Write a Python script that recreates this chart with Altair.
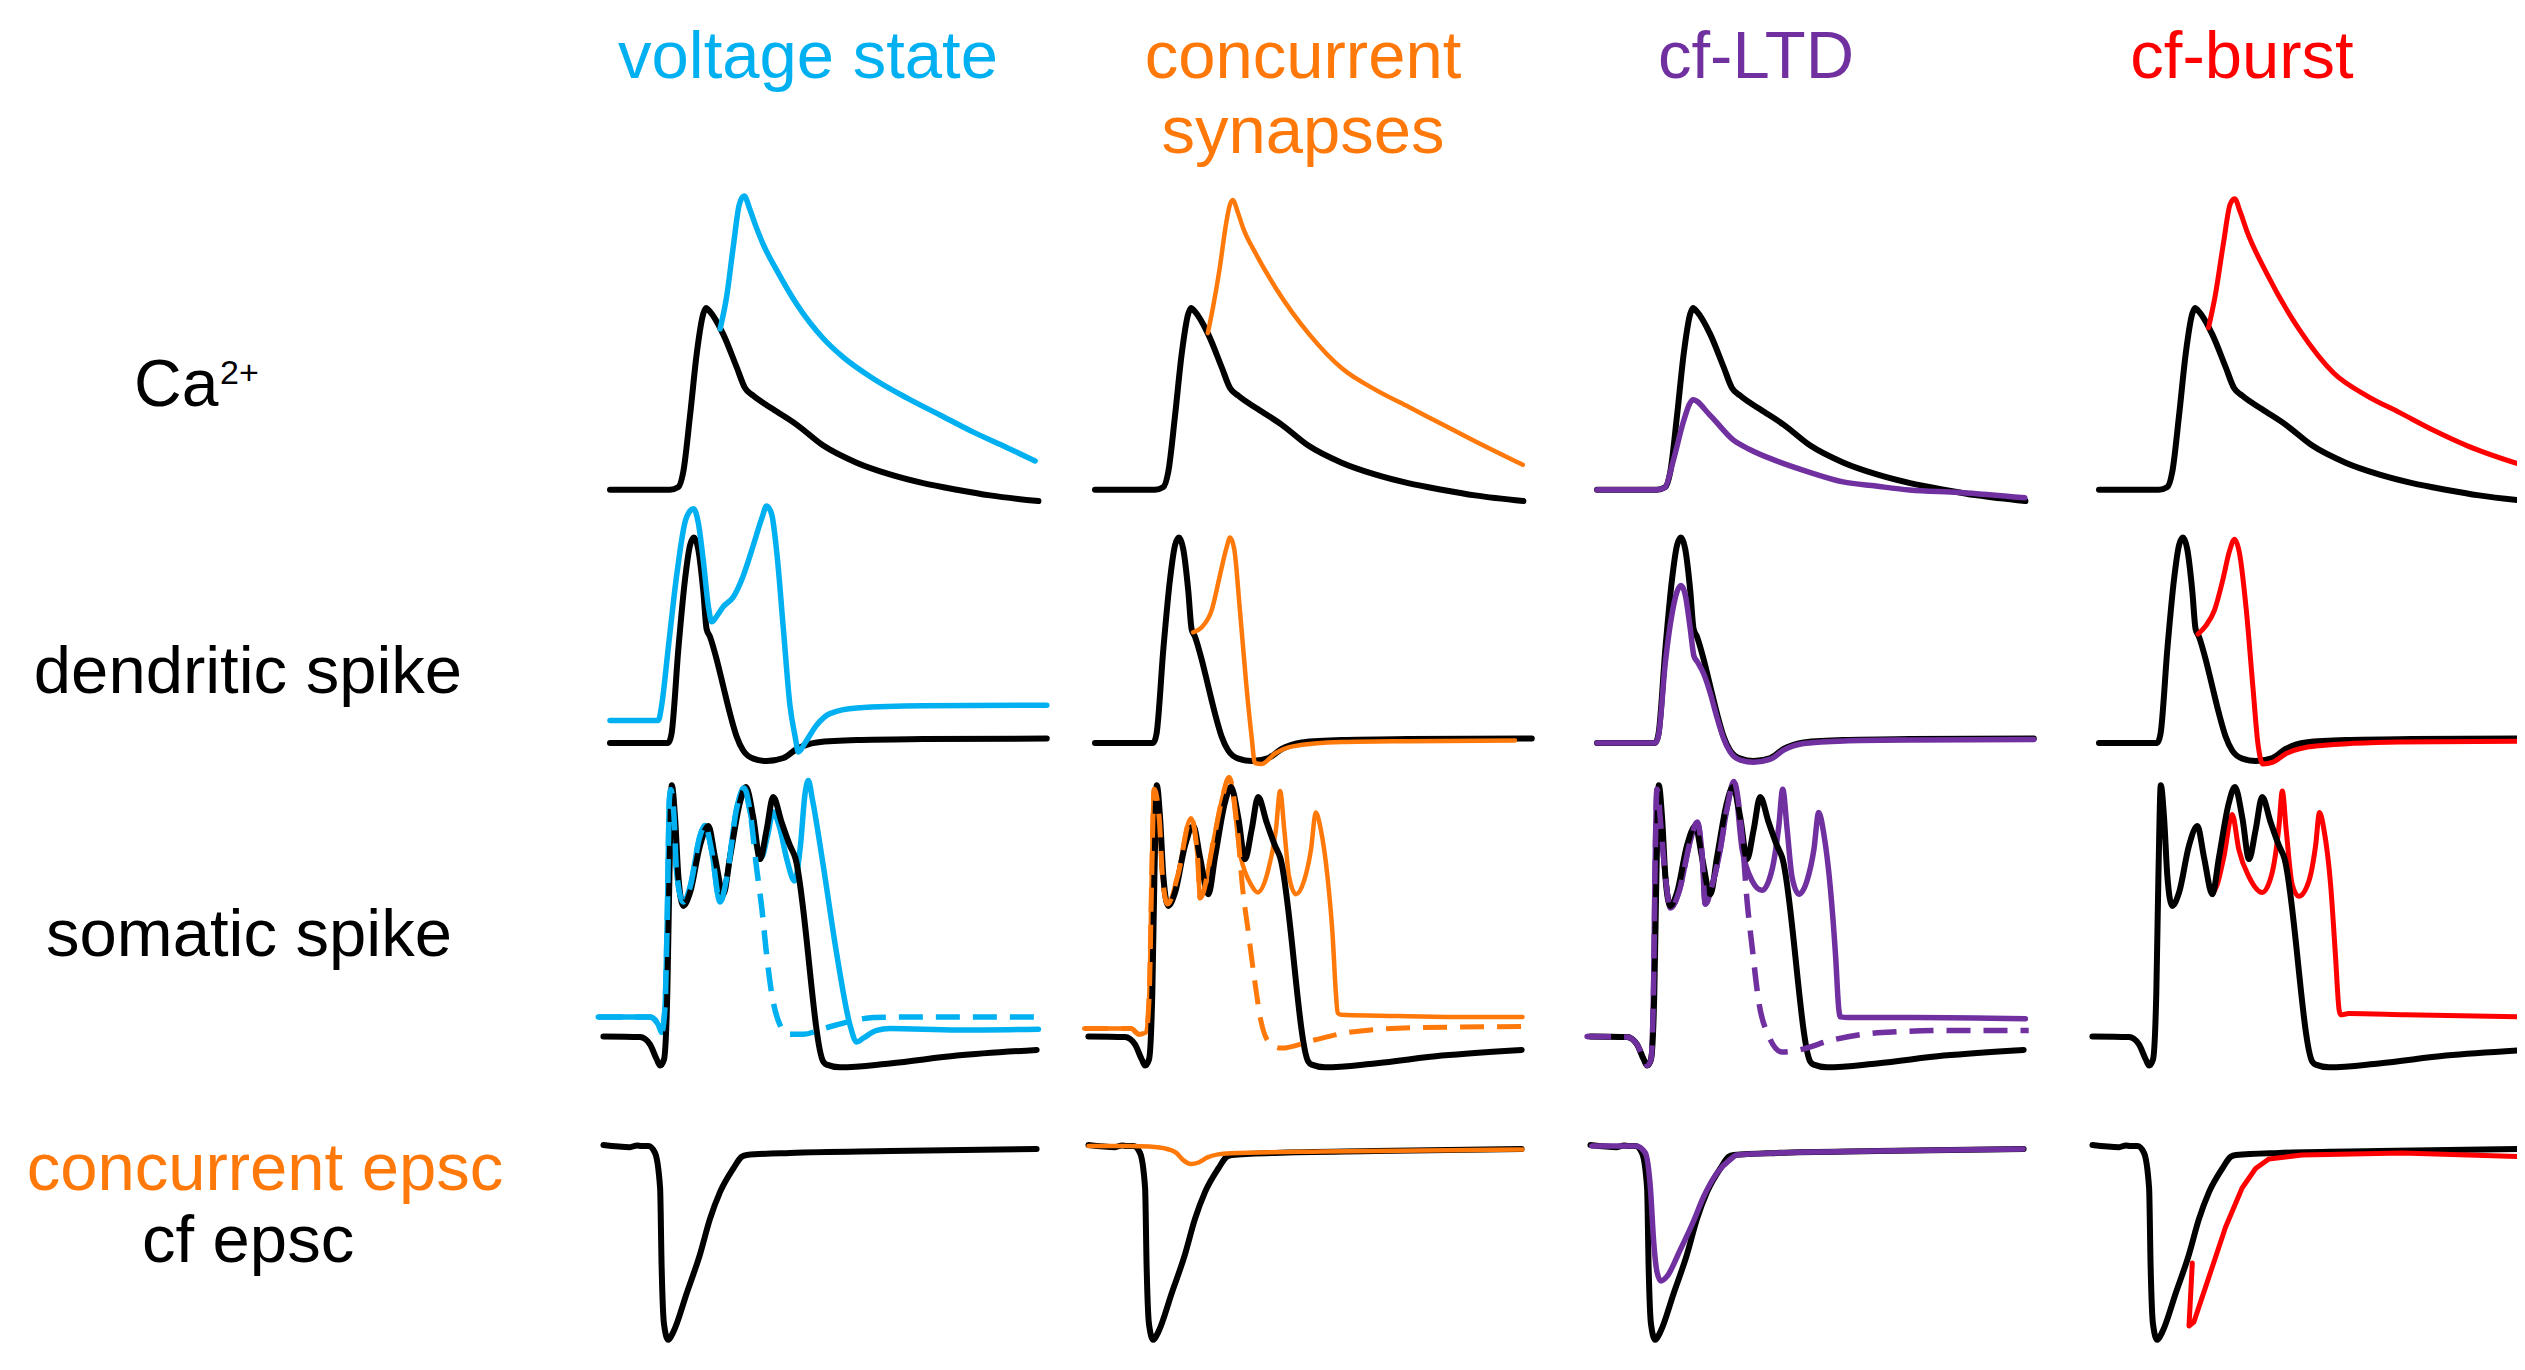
import altair as alt
import pandas as pd

BLACK = "#000000"
BLUE = "#00B0F0"
ORANGE = "#FF780A"
PURPLE = "#7030A0"
RED = "#FF0000"
FONT = "Liberation Sans"

# ---------------- data (t in ms, v in arbitrary units) ----------------
# Ca2+ row
CA_BLACK_T = [4.0, 24.0, 26.8, 28.4, 30.7, 32.9, 35.1, 36.0, 37.3, 41.8, 46.2, 49.0, 51.8, 58.4, 66.2, 75.1, 86.2, 97.3, 108.4, 119.6, 130.7, 146.8]
CA_BLACK_V = [5.1, 5.1, 6.0, 10.9, 30.0, 50.4, 63.8, 65.7, 64.5, 56.8, 46.0, 39.0, 36.4, 31.9, 26.8, 19.8, 14.1, 10.2, 7.3, 5.1, 3.2, 1.3]
CA_BLUE_T = [40.7, 42.9, 45.1, 47.1, 48.7, 50.7, 52.3, 55.1, 59.6, 66.2, 75.1, 81.8, 91.8, 102.9, 114.0, 125.1, 136.2, 145.7]
CA_BLUE_V = [58.7, 69.6, 86.2, 100.2, 103.0, 98.3, 93.8, 86.8, 78.2, 67.0, 55.5, 49.2, 42.1, 35.7, 30.0, 24.3, 19.2, 14.7]
CA_ORANGE_T = [41.6, 43.3, 45.5, 47.7, 49.0, 49.9, 51.6, 53.3, 57.7, 64.4, 75.5, 86.6, 97.7, 108.8, 119.9, 131.0, 146.6]
CA_ORANGE_V = [57.3, 65.7, 78.5, 93.8, 100.2, 101.7, 97.6, 92.5, 83.6, 72.1, 56.8, 45.3, 38.3, 32.6, 26.8, 21.1, 13.4]
CA_PURPLE_T = [4.0, 24.0, 26.6, 29.4, 32.7, 34.9, 36.0, 41.6, 49.4, 54.9, 63.8, 74.9, 86.0, 97.0, 108.2, 124.9, 146.6]
CA_PURPLE_V = [5.1, 5.1, 5.8, 14.7, 27.4, 33.8, 35.1, 30.0, 21.7, 18.5, 14.7, 10.9, 7.7, 6.3, 5.0, 4.2, 2.4]
CA_RED_T = [40.5, 42.7, 45.5, 47.7, 49.2, 51.1, 53.3, 59.9, 71.0, 82.2, 93.3, 104.4, 115.5, 126.6, 146.6]
CA_RED_V = [59.1, 69.6, 87.4, 100.2, 102.1, 97.6, 91.3, 77.2, 58.1, 44.0, 36.4, 30.7, 24.9, 19.8, 12.8]

# dendritic spike row
DEND_BLACK_T = [4.0, 23.4, 24.5, 26.8, 29.0, 30.7, 32.0, 33.4, 35.1, 36.2, 37.3, 39.6, 41.8, 44.0, 46.2, 48.4, 51.8, 56.2, 61.8, 66.2, 72.9, 86.2, 108.4, 149.6]
DEND_BLACK_V = [9.0, 9.0, 12.0, 40.5, 63.5, 75.0, 77.5, 73.7, 59.6, 47.0, 44.5, 36.7, 27.7, 18.8, 11.2, 6.5, 3.8, 3.0, 4.0, 7.0, 9.2, 10.0, 10.3, 10.5]
DEND_BLUE_T = [4.0, 20.1, 21.2, 23.4, 26.2, 29.0, 30.7, 31.8, 33.4, 35.1, 36.8, 37.9, 39.6, 41.8, 45.1, 48.4, 51.8, 54.6, 56.2, 57.9, 59.6, 61.8, 64.0, 65.7, 66.8, 69.0, 72.9, 77.3, 86.2, 108.4, 149.6]
DEND_BLUE_V = [16.5, 16.5, 21.4, 40.5, 64.7, 82.6, 86.4, 87.1, 82.6, 69.8, 54.5, 49.4, 51.3, 54.5, 57.7, 64.7, 75.0, 83.9, 88.0, 85.2, 72.4, 46.9, 21.4, 11.2, 6.0, 9.0, 15.0, 18.8, 20.7, 21.4, 21.6]
DEND_ORANGE_T = [36.7, 39.5, 42.9, 45.6, 47.9, 49.0, 50.4, 52.3, 54.5, 56.2, 57.3, 59.5, 64.0, 69.5, 86.2, 108.4, 144.0]
DEND_ORANGE_V = [45.9, 47.5, 53.3, 64.7, 74.3, 77.5, 73.7, 53.3, 27.7, 11.1, 2.3, 2.0, 5.5, 7.8, 9.3, 9.6, 9.8]
DEND_PURPLE_T = [4.0, 23.4, 24.5, 26.8, 29.0, 30.7, 32.0, 33.4, 35.1, 36.3, 37.5, 39.6, 41.8, 44.0, 46.2, 48.4, 51.8, 56.2, 61.8, 66.2, 72.9, 86.2, 108.4, 149.6]
DEND_PURPLE_V = [9.0, 9.0, 11.5, 36.0, 52.0, 59.5, 61.5, 58.5, 47.0, 38.0, 36.0, 32.0, 25.5, 17.5, 10.5, 6.0, 3.3, 2.6, 3.6, 6.6, 8.8, 9.7, 10.0, 10.2]
DEND_RED_T = [37.0, 39.7, 42.5, 45.3, 47.5, 49.2, 50.8, 53.1, 55.3, 57.0, 58.6, 62.0, 66.4, 76.4, 104.2, 143.1]
DEND_RED_V = [45.3, 48.2, 53.3, 63.5, 73.0, 76.9, 72.4, 53.3, 27.7, 8.6, 2.0, 2.6, 5.5, 8.0, 9.3, 9.6]

# somatic spike row
SOMA_BLACK_T = [1.8, 14.0, 17.3, 19.6, 20.7, 22.0, 23.1, 23.8, 24.6, 25.7, 26.8, 28.4, 30.7, 34.0, 36.8, 39.0, 41.8, 44.0, 47.3, 49.3, 51.8, 54.0, 56.2, 58.4, 61.2, 64.0, 65.7, 75.1, 76.2, 80.7, 97.3, 119.6, 146.2]
SOMA_BLACK_V = [21.2, 21.0, 18.6, 13.5, 11.5, 13.5, 35.5, 74.4, 104.9, 93.9, 74.4, 64.7, 69.2, 84.8, 91.3, 80.9, 68.6, 80.9, 99.1, 104.3, 93.9, 80.3, 90.0, 101.0, 92.6, 84.8, 80.9, 12.8, 11.8, 10.9, 12.2, 14.8, 16.7]

SOMA_BLUE_COMMON_T = [0.1, 17.3, 20.1, 21.2, 22.3, 23.1, 23.8, 24.3, 25.3, 26.2, 28.4, 30.7, 34.0, 35.7, 37.9, 40.7, 42.9, 46.2, 48.7]
SOMA_BLUE_COMMON_V = [27.7, 27.7, 25.1, 22.5, 30.3, 61.0, 100.0, 103.5, 95.0, 76.0, 66.0, 71.0, 88.0, 91.5, 83.0, 66.0, 74.0, 97.0, 104.0]
SOMA_BLUE_SOLID_T = [50.7, 53.0, 54.5, 56.5, 58.4, 60.5, 63.0, 65.5, 67.5, 69.0, 70.1, 71.5, 75.1, 79.6, 84.0, 86.2, 88.4, 92.9, 97.3, 119.6, 146.8]
SOMA_BLUE_SOLID_V = [96.0, 84.0, 81.0, 88.0, 96.0, 91.0, 80.0, 73.0, 85.0, 102.0, 106.5, 100.0, 78.0, 48.5, 25.0, 19.3, 20.6, 23.2, 23.8, 23.3, 23.6]
SOMA_BLUE_DASHED_T = [50.7, 52.9, 54.6, 56.2, 57.9, 60.1, 63.4, 68.4, 75.1, 84.0, 91.8, 108.4, 146.8]
SOMA_BLUE_DASHED_V = [96.0, 77.0, 64.0, 48.5, 35.5, 26.4, 21.9, 21.9, 23.8, 26.2, 27.5, 27.7, 27.7]

SOMA_ORANGE_COMMON_T = [0.4, 16.0, 18.7, 21.0, 22.1, 22.9, 23.7, 25.4, 26.5, 28.2, 31.5, 36.0, 38.2, 39.0, 43.7, 46.5, 48.7]
SOMA_ORANGE_COMMON_V = [23.8, 23.8, 21.9, 22.5, 35.5, 74.4, 103.6, 93.9, 74.4, 65.3, 74.4, 93.9, 80.9, 67.3, 87.4, 101.0, 107.5]
SOMA_ORANGE_SOLID_T = [52.6, 56.0, 58.2, 61.5, 64.3, 65.7, 67.1, 68.7, 71.0, 73.7, 76.0, 77.6, 79.3, 81.5, 83.2, 84.3, 84.9, 86.0, 99.3, 121.5, 146.5]
SOMA_ORANGE_SOLID_V = [80.9, 71.8, 69.2, 75.7, 90.0, 103.0, 90.0, 74.4, 68.6, 73.1, 83.5, 95.8, 90.0, 74.4, 55.0, 35.5, 29.0, 28.4, 28.1, 27.7, 27.7]
SOMA_ORANGE_DASHED_T = [51.5, 53.2, 54.9, 57.1, 59.3, 62.6, 66.0, 77.1, 88.2, 110.4, 147.1]
SOMA_ORANGE_DASHED_V = [90.0, 70.5, 57.5, 40.7, 26.4, 18.6, 17.3, 20.0, 22.5, 24.1, 24.5]

SOMA_PURPLE_COMMON_T = [0.7, 14.0, 17.3, 19.6, 20.7, 22.0, 22.9, 23.4, 24.0, 25.4, 26.8, 28.5, 31.5, 35.0, 37.4, 39.0, 40.1, 42.5, 44.6, 47.5, 49.6]
SOMA_PURPLE_COMMON_V = [21.2, 21.0, 18.6, 13.5, 11.5, 13.5, 40.0, 80.0, 103.6, 90.0, 74.4, 64.0, 70.0, 86.0, 92.6, 82.0, 65.3, 72.0, 80.9, 98.0, 106.2]
SOMA_PURPLE_SOLID_T = [52.4, 55.7, 59.0, 62.4, 64.6, 65.9, 67.4, 69.0, 71.3, 74.0, 76.3, 77.9, 79.6, 81.8, 83.5, 84.6, 85.1, 87.9, 110.1, 146.8]
SOMA_PURPLE_SOLID_V = [83.5, 73.1, 69.9, 77.0, 91.3, 103.6, 90.0, 74.4, 68.6, 73.1, 83.5, 95.8, 88.7, 70.5, 48.5, 30.3, 27.7, 27.5, 27.5, 27.1]
SOMA_PURPLE_DASHED_T = [52.4, 54.0, 55.7, 57.9, 61.3, 65.7, 71.3, 82.4, 99.0, 121.3, 147.9]
SOMA_PURPLE_DASHED_V = [87.4, 66.6, 51.1, 32.9, 21.2, 16.0, 16.7, 20.0, 22.5, 23.2, 23.2]

SOMA_RED_T = [41.8, 43.4, 45.6, 48.4, 50.6, 54.0, 58.4, 61.7, 64.0, 65.1, 66.4, 68.4, 70.6, 74.0, 76.2, 77.5, 79.0, 81.2, 82.8, 84.0, 84.5, 87.3, 106.2, 147.3]
SOMA_RED_V = [68.6, 71.8, 80.9, 95.2, 83.5, 74.4, 69.2, 75.7, 91.3, 103.0, 90.0, 71.8, 67.9, 73.1, 84.8, 95.8, 90.0, 71.8, 48.5, 30.3, 28.4, 28.8, 28.4, 27.7]

# epsc row
EPSC_BLACK_T = [1.8, 10.7, 13.0, 14.5, 16.8, 19.0, 20.7, 21.2, 22.0, 23.4, 25.1, 29.6, 34.0, 37.3, 40.7, 45.1, 47.9, 49.6, 64.0, 97.3, 146.2]
EPSC_BLACK_V = [72.3, 71.6, 72.2, 72.0, 72.0, 69.7, 58.0, 32.1, 12.6, 7.4, 10.0, 23.0, 35.9, 47.6, 56.7, 64.5, 68.4, 69.0, 69.7, 70.3, 71.0]
EPSC_ORANGE_T = [1.8, 16.0, 22.0, 28.0, 31.0, 33.5, 35.9, 38.5, 41.5, 45.0, 49.0, 80.0, 146.5]
EPSC_ORANGE_V = [72.0, 72.0, 71.8, 71.0, 69.8, 67.2, 66.0, 66.5, 68.2, 69.2, 69.6, 70.2, 70.8]
EPSC_PURPLE_T = [2.3, 17.0, 20.1, 21.8, 22.9, 24.0, 25.3, 27.3, 31.8, 36.2, 39.5, 44.0, 48.4, 50.6, 64.0, 97.0, 146.0]
EPSC_PURPLE_V = [72.0, 72.0, 69.7, 58.0, 40.0, 30.0, 27.0, 28.5, 37.5, 47.0, 55.0, 63.0, 67.5, 69.0, 69.7, 70.3, 71.0]
EPSC_RED_T = [35.1, 34.0, 35.6, 40.6, 46.2, 51.7, 56.2, 60.6, 71.7, 105.1, 146.2]
EPSC_RED_V = [33.0, 12.0, 13.3, 28.2, 45.0, 58.0, 64.5, 67.7, 69.0, 69.7, 68.4]

COLUMN_TITLES = ["voltage state", "concurrent", "cf-LTD", "cf-burst"]
COLUMN_SUBTITLES = ["", "synapses", "", ""]
COLUMN_COLORS = [BLUE, ORANGE, PURPLE, RED]

# ---------------- layout ----------------
PX = 3.0                       # pixels per data unit
LABEL_W = 590
COL_W = [485, 502, 502, 430]
TITLE_H = 162
ROW_H = {"ca": 335, "dend": 265, "soma": 330, "epsc": 262}
TITLE_X = [210, 220, 171, 155]   # title centre inside each column cell
BW = 6.0                          # black trace width


def line_layer(t, v, color, width, col, row, dashed=False):
    df = pd.DataFrame({"t": t, "v": v})
    df["i"] = range(len(df))
    monotone = all(b > a for a, b in zip(t, t[1:]))
    kw = dict(color=color, strokeWidth=width, strokeJoin="round",
              interpolate="monotone" if monotone else "linear")
    if dashed:
        kw["strokeDash"] = [24, 13]
        kw["strokeCap"] = "butt"
    else:
        kw["strokeCap"] = "round"
    if col == 3:
        kw["clip"] = True
    return alt.Chart(df).mark_line(**kw).encode(
        x=alt.X("t:Q", scale=alt.Scale(domain=[0, COL_W[col] / PX], nice=False, zero=False), axis=None),
        y=alt.Y("v:Q", scale=alt.Scale(domain=[0, ROW_H[row] / PX], nice=False, zero=False), axis=None),
        order=alt.Order("i:Q"),
    )


def text_layer(text, x, y, color=BLACK, size=67, align="center"):
    return alt.Chart(pd.DataFrame({"label": [text]})).mark_text(
        font=FONT, fontSize=size, color=color, align=align, baseline="alphabetic"
    ).encode(x=alt.value(x), y=alt.value(y), text="label:N")


TRACES = {
    ("ca", 0): [(CA_BLACK_T, CA_BLACK_V, BLACK, BW, False), (CA_BLUE_T, CA_BLUE_V, BLUE, 5.5, False)],
    ("ca", 1): [(CA_BLACK_T, CA_BLACK_V, BLACK, BW, False), (CA_ORANGE_T, CA_ORANGE_V, ORANGE, 4.5, False)],
    ("ca", 2): [(CA_BLACK_T, CA_BLACK_V, BLACK, BW, False), (CA_PURPLE_T, CA_PURPLE_V, PURPLE, 5.5, False)],
    ("ca", 3): [(CA_BLACK_T, CA_BLACK_V, BLACK, BW, False), (CA_RED_T, CA_RED_V, RED, 5, False)],
    ("dend", 0): [(DEND_BLACK_T, DEND_BLACK_V, BLACK, BW, False), (DEND_BLUE_T, DEND_BLUE_V, BLUE, 5.5, False)],
    ("dend", 1): [(DEND_BLACK_T, DEND_BLACK_V, BLACK, BW, False), (DEND_ORANGE_T, DEND_ORANGE_V, ORANGE, 4.5, False)],
    ("dend", 2): [(DEND_BLACK_T, DEND_BLACK_V, BLACK, BW, False), (DEND_PURPLE_T, DEND_PURPLE_V, PURPLE, 5.5, False)],
    ("dend", 3): [(DEND_BLACK_T, DEND_BLACK_V, BLACK, BW, False), (DEND_RED_T, DEND_RED_V, RED, 5, False)],
    ("soma", 0): [
        (SOMA_BLUE_COMMON_T + SOMA_BLUE_SOLID_T, SOMA_BLUE_COMMON_V + SOMA_BLUE_SOLID_V, BLUE, 5.5, False),
        (SOMA_BLACK_T, SOMA_BLACK_V, BLACK, BW, False),
        (SOMA_BLUE_COMMON_T + SOMA_BLUE_DASHED_T, SOMA_BLUE_COMMON_V + SOMA_BLUE_DASHED_V, BLUE, 5.5, True),
    ],
    ("soma", 1): [
        (SOMA_ORANGE_COMMON_T + SOMA_ORANGE_SOLID_T, SOMA_ORANGE_COMMON_V + SOMA_ORANGE_SOLID_V, ORANGE, 4.5, False),
        (SOMA_BLACK_T, SOMA_BLACK_V, BLACK, BW, False),
        (SOMA_ORANGE_COMMON_T + SOMA_ORANGE_DASHED_T, SOMA_ORANGE_COMMON_V + SOMA_ORANGE_DASHED_V, ORANGE, 5, True),
    ],
    ("soma", 2): [
        (SOMA_PURPLE_COMMON_T + SOMA_PURPLE_SOLID_T, SOMA_PURPLE_COMMON_V + SOMA_PURPLE_SOLID_V, PURPLE, 5.5, False),
        (SOMA_BLACK_T, SOMA_BLACK_V, BLACK, BW, False),
        (SOMA_PURPLE_COMMON_T + SOMA_PURPLE_DASHED_T, SOMA_PURPLE_COMMON_V + SOMA_PURPLE_DASHED_V, PURPLE, 5.5, True),
    ],
    ("soma", 3): [
        (SOMA_RED_T, SOMA_RED_V, RED, 5, False),
        (SOMA_BLACK_T, SOMA_BLACK_V, BLACK, BW, False),
    ],
    ("epsc", 0): [(EPSC_BLACK_T, EPSC_BLACK_V, BLACK, BW, False)],
    ("epsc", 1): [(EPSC_BLACK_T, EPSC_BLACK_V, BLACK, BW, False), (EPSC_ORANGE_T, EPSC_ORANGE_V, ORANGE, 4.5, False)],
    ("epsc", 2): [(EPSC_BLACK_T, EPSC_BLACK_V, BLACK, BW, False), (EPSC_PURPLE_T, EPSC_PURPLE_V, PURPLE, 5.5, False)],
    ("epsc", 3): [(EPSC_BLACK_T, EPSC_BLACK_V, BLACK, BW, False), (EPSC_RED_T, EPSC_RED_V, RED, 5, False)],
}

ROW_LABELS = {
    "ca": [("Ca", 126, 236, BLACK, 66, "left"), ("2+", 212, 214, BLACK, 34, "left")],
    "dend": [("dendritic spike", 240, 188, BLACK, 67, "center")],
    "soma": [("somatic spike", 241, 186, BLACK, 67, "center")],
    "epsc": [("concurrent epsc", 257, 90, ORANGE, 67, "center"), ("cf epsc", 240, 162, BLACK, 67, "center")],
}


def panel(row, col):
    layers = [line_layer(t, v, c, w, col, row, d) for (t, v, c, w, d) in TRACES[(row, col)]]
    return alt.layer(*layers).properties(width=COL_W[col], height=ROW_H[row])


def label_panel(row):
    layers = [text_layer(*spec) for spec in ROW_LABELS[row]]
    return alt.layer(*layers).properties(width=LABEL_W, height=ROW_H[row])


def title_panel(i):
    layers = [text_layer(COLUMN_TITLES[i], TITLE_X[i], 70, COLUMN_COLORS[i], 67)]
    if COLUMN_SUBTITLES[i]:
        layers.append(text_layer(COLUMN_SUBTITLES[i], TITLE_X[i], 145, COLUMN_COLORS[i], 67))
    return alt.layer(*layers).properties(width=COL_W[i], height=TITLE_H)


cells = [text_layer("", 100, 100).properties(width=LABEL_W, height=TITLE_H)]
cells += [title_panel(i) for i in range(4)]
for row in ["ca", "dend", "soma", "epsc"]:
    cells.append(label_panel(row))
    cells += [panel(row, c) for c in range(4)]

chart = alt.concat(*cells, columns=5, spacing=0, bounds="flush", align="each").properties(
    padding=0, background="white"
).configure_view(strokeWidth=0, strokeOpacity=0)

chart.save("out.html", embed_options={"renderer": "svg", "actions": False})
